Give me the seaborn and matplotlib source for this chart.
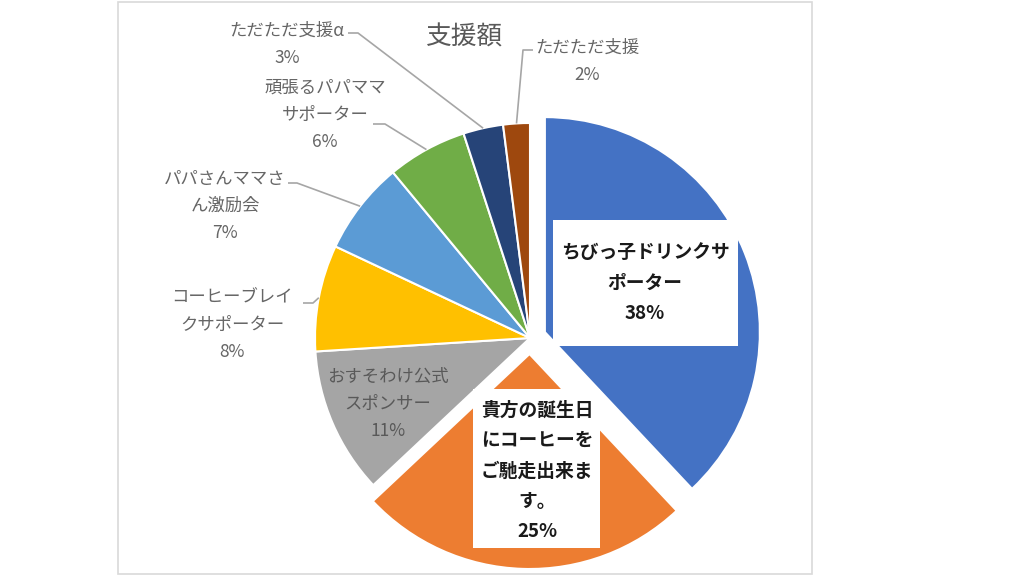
import matplotlib
matplotlib.use("Agg")
import matplotlib.pyplot as plt
import seaborn as sns
import numpy as np
from matplotlib.patches import Rectangle

sns.set_theme(style="white")
plt.rcParams['font.family'] = ['Noto Sans CJK JP', 'DejaVu Sans']

# data
names = ["ちびっ子ドリンクサ\nポーター",
         "貴方の誕生日\nにコーヒーを\nご馳走出来ま\nす。",
         "おすそわけ公式\nスポンサー",
         "コーヒーブレイ\nクサポーター",
         "パパさんママさ\nん激励会",
         "頑張るパパママ\nサポーター",
         "ただただ支援α",
         "ただただ支援"]
shares = [38, 25, 11, 8, 7, 6, 3, 2]
colors = ["#4472C4", "#ED7D31", "#A5A5A5", "#FFC000",
          "#5B9BD5", "#70AD47", "#264478", "#9E480E"]
explode = [16, 16, 0, 0, 0, 0, 0, 0]

W, H = 1024, 576
def Y(y):
    return H - y

fig = plt.figure(figsize=(10.24, 5.76), dpi=100)
ax = fig.add_axes([0, 0, 1, 1])

wedges, _ = ax.pie(shares, colors=colors, startangle=90, counterclock=False,
                   center=(530, Y(338)), radius=215, explode=explode,
                   wedgeprops=dict(edgecolor="white", linewidth=1.5))
ax.set_xlim(0, W)
ax.set_ylim(0, H)
ax.set_aspect("auto")
ax.axis("off")

# chart frame and title
ax.add_patch(Rectangle((118, Y(574)), 694, 572, fill=False,
                       edgecolor="#D9D9D9", linewidth=1.2, clip_on=False))
ax.text(465, Y(38), "支援額", fontsize=18.5, color="#595959",
        ha="center", va="center")

txt_gray = "#666666"
line_gray = "#A6A6A6"

def mid_point(w):
    a = np.deg2rad((w.theta1 + w.theta2) / 2)
    cx, cy = w.center
    return cx + w.r * np.cos(a), cy + w.r * np.sin(a)

# big labels in white boxes (first two slices)
boxes = [(553, 220, 185, 126, 645, 283), (473, 389, 127, 159, 537, 471)]
for i, (bx, by, bw, bh, tx, ty) in enumerate(boxes):
    ax.add_patch(Rectangle((bx, Y(by + bh)), bw, bh, facecolor="white",
                           edgecolor="none", zorder=3))
    ax.text(tx, Y(ty), f"{names[i]}\n{shares[i]}%", fontsize=13.5,
            fontweight="bold", color="#1a1a1a", ha="center", va="center",
            linespacing=1.75, zorder=4)

# label inside the grey slice
ax.text(388, Y(404), f"{names[2]}\n{shares[2]}%", fontsize=12.5,
        color="#595959", ha="center", va="center", linespacing=1.65, zorder=4)

# outside labels with leader lines
outside = {
    3: ((232, 325), [(303, 303), (313, 303)]),
    4: ((225, 206), [(288, 183), (297, 183)]),
    5: ((325, 115), [(373, 124), (385, 124)]),
    6: ((287, 44), [(348, 33), (358, 33)]),
    7: ((587, 61), [(533, 50), (523, 50)]),
}
for i, ((tx, ty), pts) in outside.items():
    ax.text(tx, Y(ty), f"{names[i]}\n{shares[i]}%", fontsize=12.5,
            color=txt_gray, ha="center", va="center", linespacing=1.65)
    ex, ey = mid_point(wedges[i])
    xs = [p[0] for p in pts] + [ex]
    ys = [Y(p[1]) for p in pts] + [ey]
    ax.plot(xs, ys, color=line_gray, linewidth=1.2, solid_capstyle="butt")

fig.savefig("out.png", dpi=100)
